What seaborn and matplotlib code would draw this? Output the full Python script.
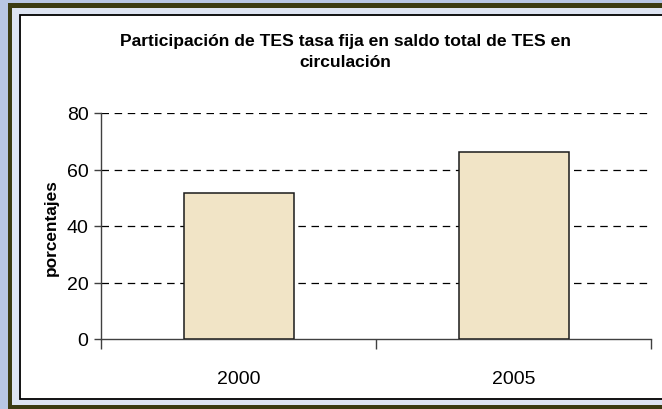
import matplotlib
matplotlib.use("Agg")
import matplotlib.pyplot as plt
import seaborn as sns
import pandas as pd
from matplotlib.patches import Rectangle

# ---- data ----
years = ["2000", "2005"]
values = [51.6, 66.3]
yticks = [0, 20, 40, 60, 80]
title = "Participación de TES tasa fija en saldo total de TES en\ncirculación"
ylabel = "porcentajes"

df = pd.DataFrame({"year": years, "value": values})

sns.set_theme(style="white")
plt.rcParams["font.family"] = ["Liberation Sans", "DejaVu Sans"]

W, H = 662, 410
fig = plt.figure(figsize=(W / 100, H / 100), dpi=100)
fig.patch.set_facecolor("#b8c6e4")

def fx(x):
    return x / W

def fy(y):
    return 1 - y / H

# frame decoration
fig.patches.append(Rectangle((fx(8), fy(412)), fx(670 - 8), (412 - 4) / H,
                             transform=fig.transFigure, facecolor="#3b3b12",
                             edgecolor="none", zorder=-10))
fig.patches.append(Rectangle((fx(12), fy(406)), fx(670 - 12), (406 - 9) / H,
                             transform=fig.transFigure, facecolor="#dde4f2",
                             edgecolor="none", zorder=-9))
fig.patches.append(Rectangle((fx(20), fy(400)), fx(670 - 20), (400 - 16) / H,
                             transform=fig.transFigure, facecolor="white",
                             edgecolor="black", linewidth=1.3, zorder=-8))

ax = fig.add_axes([fx(101), fy(340), fx(651 - 101), (340 - 114) / H])
ax.set_zorder(1)
ax.set_facecolor("none")

sns.barplot(data=df, x="year", y="value", ax=ax, color="#f1e4c6",
            width=0.40, edgecolor="#1a1a1a", linewidth=1.1, saturation=1, zorder=3)

ax.set_xlim(-0.5, len(years) - 0.5)
ax.set_ylim(0, 80)
ax.set_yticks(yticks)
ax.set_yticklabels([str(t) for t in yticks])

for t in yticks[1:]:
    ax.axhline(t, color="black", linestyle=(0, (6, 4.5)), linewidth=0.9, zorder=1)

for s in ["top", "right"]:
    ax.spines[s].set_visible(False)
for s in ["left", "bottom"]:
    ax.spines[s].set_color("#404040")
    ax.spines[s].set_linewidth(1.0)

ax.tick_params(axis="y", which="major", left=True, length=5, width=1.0,
               color="#404040", pad=4, labelsize=14, labelcolor="black")
ax.tick_params(axis="x", which="major", bottom=False, length=0, pad=22,
               labelsize=14, labelcolor="black")
ax.set_xticks([-0.5, 0.5, 1.5], minor=True)
ax.tick_params(axis="x", which="minor", bottom=True, length=7, width=1.0,
               color="#404040", direction="out")

ax.set_xlabel("")
ax.set_ylabel("")
fig.text(fx(51), fy(228), ylabel, rotation=90, ha="center", va="center",
         fontsize=12.4, fontweight="bold", color="black")
fig.text(fx(345), fy(52), title, ha="center", va="center", fontsize=12.6,
         fontweight="bold", color="black", linespacing=1.45)

fig.savefig("out.png", dpi=100, facecolor=fig.get_facecolor())
